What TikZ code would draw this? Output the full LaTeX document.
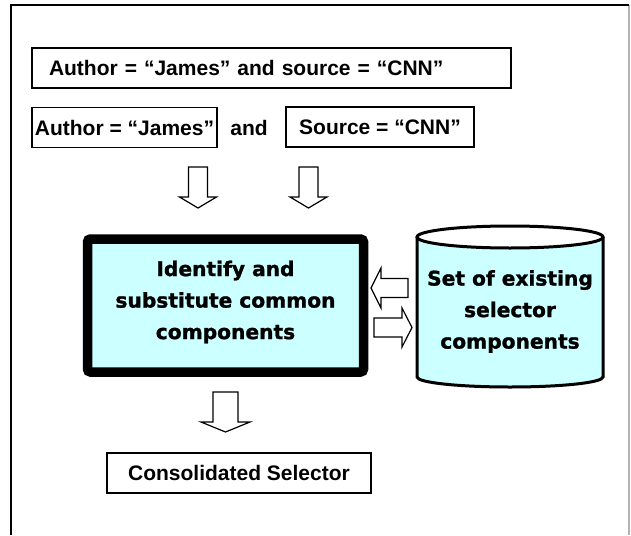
\documentclass[tikz,border=0pt]{standalone}
\usepackage{xcolor}
\usepackage{fontspec}
\usepackage{tikz}
\newfontfamily\labelfont{Liberation Sans}
\newfontfamily\heavyfont{DejaVu Sans}[BoldFeatures={FakeBold=1.3}]
\definecolor{boxcyan}{RGB}{204,255,255}

\begin{document}
\begin{tikzpicture}[x=1pt,y=-1pt,
  every node/.style={inner sep=0pt, outer sep=0pt},
  word/.style={font=\labelfont\bfseries\fontsize{21}{25}\selectfont},
  query/.style={word, draw=black, line width=1.3pt, minimum height=40pt},
  heavy/.style={font=\heavyfont\bfseries\fontsize{20.2}{31.5}\selectfont, align=center},
  blockarrow/.style={draw=black, line width=1.2pt, fill=white, line join=miter}]
\useasboundingbox (0,0) rectangle (631,535);
% frame
\draw[gray!60, line width=1.5pt] (629,5) -- (629,535);
\draw[black, line width=2pt] (11,535) -- (11,5) -- (629,5);
% selectors
\node[query, anchor=west, text width=445pt, inner xsep=17pt, align=left] (whole) at (32,68) {Author = “James” and source = “CNN”};
\node[query, minimum width=185pt] (author) at (124.5,127.5) {Author = “James”};
\node[word] (conj) at (249,128) {and};
\node[query, minimum width=188pt] (source) at (380,127) {Source = “CNN”};
\draw[blockarrow, shift={(198,167)}] (-9.5,0) -- (9.5,0) -- (9.5,30) -- (18.5,30) -- (0,41) -- (-18.5,30) -- (-9.5,30) -- cycle;
\draw[blockarrow, shift={(308.5,167)}] (-9.5,0) -- (9.5,0) -- (9.5,30) -- (18.5,30) -- (0,41) -- (-18.5,30) -- (-9.5,30) -- cycle;
% main step
\node[draw=black, line width=9.5pt, rounded corners=3pt, fill=boxcyan, minimum width=276pt, minimum height=133pt] (identify) at (225.5,305.5) {};
\node[heavy] (identifytext) at (225.5,302) {Identify and\\substitute common\\components};
% store of components
\fill[boxcyan] (417,237) -- (417,377) arc[start angle=180, end angle=0, x radius=93, y radius=10] -- (603,237) arc[start angle=0, end angle=180, x radius=93, y radius=11] -- cycle;
\draw[line width=3pt] (417,237) -- (417,377) arc[start angle=180, end angle=0, x radius=93, y radius=10] -- (603,237);
\draw[line width=3pt] (510,237) ellipse[x radius=93, y radius=11];
\node[heavy] (store) at (510,311.5) {Set of existing\\selector\\components};
\draw[blockarrow, shift={(371,288)}] (0,0) -- (10,-20) -- (10,-9.5) -- (37,-9.5) -- (37,9.5) -- (10,9.5) -- (10,20) -- cycle;
\draw[blockarrow, shift={(374,327.5)}] (0,-9.5) -- (28,-9.5) -- (28,-19.5) -- (38,0) -- (28,19.5) -- (28,9.5) -- (0,9.5) -- cycle;
% result
\draw[blockarrow, shift={(225.5,392)}] (-12.5,0) -- (12.5,0) -- (12.5,30) -- (24.5,30) -- (0,40) -- (-24.5,30) -- (-12.5,30) -- cycle;
\node[query, minimum width=264pt] (result) at (239,473) {Consolidated Selector};
\end{tikzpicture}
\end{document}
